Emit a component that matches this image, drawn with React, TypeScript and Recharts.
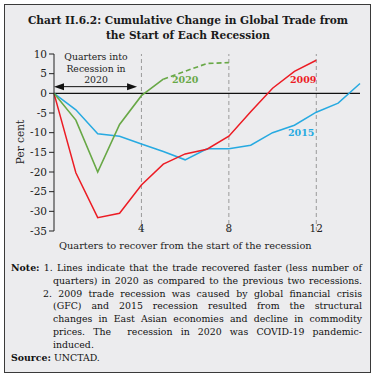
import { Line, LineChart, ReferenceLine, XAxis, YAxis } from 'recharts'

const QUARTERS = [0, 1, 2, 3, 4, 5, 6, 7, 8, 9, 10, 11, 12, 13, 14]
const R2009 = [0, -20.2, -31.6, -30.5, -23.3, -18, -15.4, -14.2, -10.9, -4.7, 1.3, 5.6, 8.4]
const R2015 = [0, -4.2, -10.3, -10.9, -12.9, -14.8, -16.9, -14.1, -14.1, -13.2, -10, -8.1, -4.8, -2.5, 2.5]
const R2020 = [0, -6.8, -20, -7.9, -0.6, 3.6]
const R2020_EST = [3.6, 5.6, 7.6, 7.8] // quarters 5-8, dashed
const X_TICKS = [4, 8, 12]
const Y_TICKS = [10, 5, 0, -5, -10, -15, -20, -25, -30, -35]

const RED = '#ec1c24'
const BLUE = '#27aae1'
const GREEN = '#68a846'
const FONT = '"DejaVu Serif", "Liberation Serif", serif'

const data = QUARTERS.map((q, i) => ({
  q,
  y2009: R2009[i],
  y2015: R2015[i],
  y2020: R2020[i],
  y2020e: i >= 5 ? R2020_EST[i - 5] : undefined,
}))

const XTick = ({ x, y, payload }: any) => (
  <text x={x} y={y + 1} textAnchor="middle" fontSize={10.5} fontFamily={FONT} fill="#222">
    {payload.value}
  </text>
)

const Arrow = ({ x1, y1, x2, y2 }: any) => (
  <g>
    <line x1={x1 + 6} y1={y1} x2={x2 - 6} y2={y2} stroke="#111" strokeWidth={1} />
    <polygon points={`${x1},${y1} ${x1 + 10},${y1 - 3.5} ${x1 + 10},${y1 + 3.5}`} fill="#111" />
    <polygon points={`${x2},${y2} ${x2 - 10},${y2 - 3.5} ${x2 - 10},${y2 + 3.5}`} fill="#111" />
  </g>
)

const abs = (left: number, top: number, extra: any = {}) => ({
  position: 'absolute' as const,
  left,
  top,
  fontFamily: FONT,
  whiteSpace: 'nowrap' as const,
  ...extra,
})

const noteLine = { fontSize: 9.4, lineHeight: '12.9px', color: '#111' }
const just = { textAlign: 'justify' as const, textAlignLast: 'justify' as const }

export default function App() {
  return (
    <div style={{ position: 'absolute', left: 0, top: 0, width: 376, height: 378, background: '#fff' }}>
      <div
        style={{
          position: 'absolute',
          left: 4,
          top: 4,
          width: 365,
          height: 367,
          border: '1.5px solid #3a3a3a',
          background: '#ececee',
        }}
      />
      <div style={abs(0, 13, { width: 376, textAlign: 'center', fontSize: 10.6, fontWeight: 'bold', lineHeight: '15px', color: '#1a1a1a' })}>
        Chart II.6.2: Cumulative Change in Global Trade from
        <br />
        the Start of Each Recession
      </div>

      <div style={{ position: 'absolute', left: 0, top: 0 }}>
        <LineChart width={376} height={260} data={data} margin={{ top: 54, right: 16, left: 0, bottom: 9 }}>
          <XAxis
            dataKey="q"
            type="number"
            domain={[0, 14]}
            ticks={X_TICKS}
            axisLine={false}
            tickLine={false}
            tickSize={0}
            tickMargin={0}
            height={20}
            tick={<XTick />}
          />
          <YAxis
            type="number"
            domain={[-35, 10]}
            ticks={Y_TICKS}
            width={54}
            interval={0}
            axisLine={{ stroke: '#222', strokeWidth: 1 }}
            tickLine={{ stroke: '#222' }}
            tickSize={5}
            tickMargin={2}
            tick={{ fontSize: 10.5, fontFamily: FONT, fill: '#222' }}
          />
          {X_TICKS.map((t) => (
            <ReferenceLine key={t} x={t} stroke="#9a9a9a" strokeDasharray="4 3" />
          ))}
          <ReferenceLine y={0} stroke="#111" strokeWidth={1.2} />
          <ReferenceLine segment={[{ x: 0, y: 1.7 }, { x: 3.8, y: 1.7 }]} shape={<Arrow />} />
          <Line dataKey="y2015" stroke={BLUE} strokeWidth={1.5} dot={false} isAnimationActive={false} />
          <Line dataKey="y2009" stroke={RED} strokeWidth={1.5} dot={false} isAnimationActive={false} />
          <Line dataKey="y2020" stroke={GREEN} strokeWidth={1.6} dot={false} isAnimationActive={false} />
          <Line dataKey="y2020e" stroke={GREEN} strokeWidth={1.6} strokeDasharray="5 3" dot={false} isAnimationActive={false} />
        </LineChart>
      </div>

      <div style={abs(20, 142, { fontSize: 10.5, color: '#222', transform: 'translate(-50%, -50%) rotate(-90deg)' })}>
        Per cent
      </div>
      <div style={abs(58, 51, { width: 76, textAlign: 'center', fontSize: 9.3, lineHeight: '11.5px', color: '#222' })}>
        Quarters into
        <br />
        Recession in
        <br />
        2020
      </div>
      <div style={abs(172, 74, { fontSize: 9.5, fontWeight: 'bold', color: GREEN })}>2020</div>
      <div style={abs(290, 74, { fontSize: 9.5, fontWeight: 'bold', color: RED })}>2009</div>
      <div style={abs(288, 127, { fontSize: 9.5, fontWeight: 'bold', color: BLUE })}>2015</div>
      <div style={abs(59, 240, { fontSize: 9.8, color: '#222' })}>Quarters to recover from the start of the recession</div>

      <div style={abs(11, 262, { ...noteLine, width: 351, ...just })}>
        <b>Note:</b> 1. Lines indicate that the trade recovered faster (less number of
      </div>
      <div style={abs(53, 275, { ...noteLine, width: 309, ...just })}>
        quarters) in 2020 as compared to the previous two recessions.
      </div>
      <div style={abs(43, 287.5, { ...noteLine, width: 319, ...just })}>
        2. 2009 trade recession was caused by global financial crisis
      </div>
      <div style={abs(53, 300.4, { ...noteLine, width: 309, ...just })}>
        (GFC) and 2015 recession resulted from the structural
      </div>
      <div style={abs(53, 313.3, { ...noteLine, width: 309, ...just })}>
        changes in East Asian economies and decline in commodity
      </div>
      <div style={abs(53, 326.2, { ...noteLine, width: 309, ...just })}>
        prices. The&nbsp; recession in 2020 was COVID-19 pandemic-
      </div>
      <div style={abs(53, 339.1, { ...noteLine })}>induced.</div>
      <div style={abs(11, 352, { ...noteLine })}>
        <b>Source:</b> UNCTAD.
      </div>
    </div>
  )
}
